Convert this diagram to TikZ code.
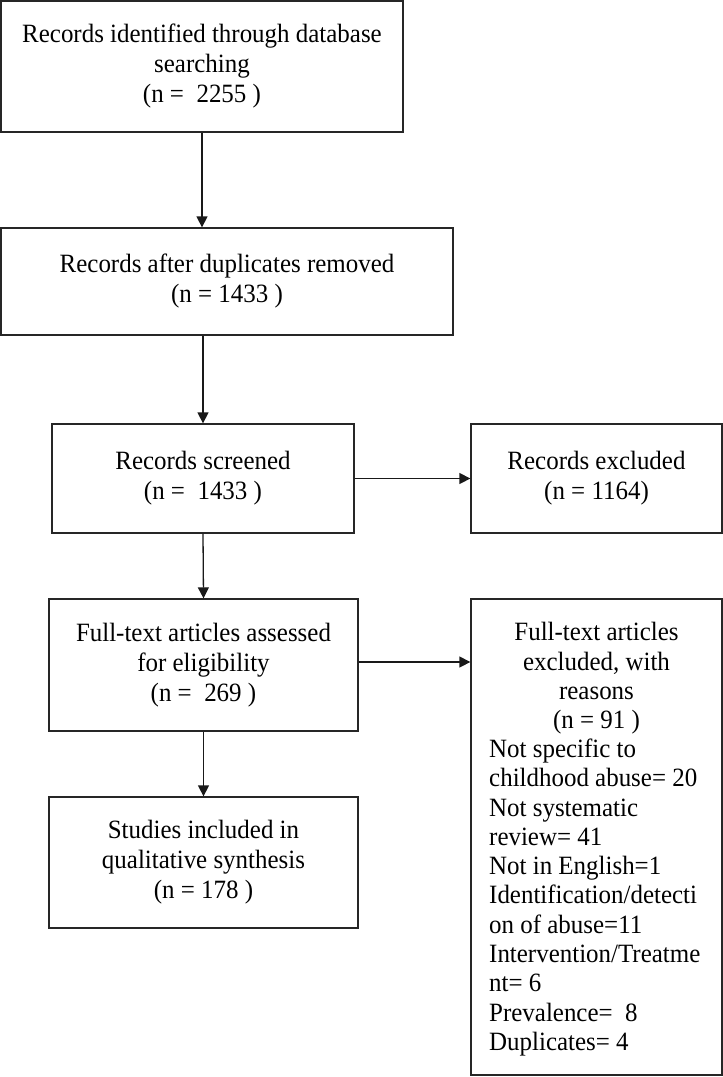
\documentclass[tikz,border=0pt]{standalone}
\usepackage{fontspec}
\setmainfont[FakeStretch=0.945]{Liberation Serif}
\usetikzlibrary{arrows.meta}
\begin{document}
\begin{tikzpicture}[x=1pt,y=-1pt,
  box/.style={draw=black!85,line width=1.3pt,inner sep=0pt,align=center,font=\fontsize{26.4}{30}\selectfont},
  txt/.style={inner sep=0pt,font=\fontsize{26.4}{29.3}\selectfont},
  arr/.style={draw=black!90,line width=1.3pt,-{Triangle[length=11pt,width=11pt]}}]
\useasboundingbox (0,0) rectangle (723,1077);
\node[box,minimum width=402,minimum height=131] (b1) at (202,66.5) {Records identified through database\\searching\\(n = ~2255 )};
\node[box,minimum width=452,minimum height=107] (b2) at (227,281.5) {Records after duplicates removed\\(n = 1433 )};
\node[box,minimum width=302,minimum height=109] (b3) at (203,478.5) {Records screened\\(n = ~1433 )};
\node[box,minimum width=251,minimum height=109] (b4) at (596.5,478.5) {Records excluded\\(n = 1164)};
\node[box,minimum width=309,minimum height=132] (b5) at (203.5,665) {Full-text articles assessed\\for eligibility\\(n = ~269 )};
\node[box,minimum width=251,minimum height=476] (b6) at (596.5,837) {};
\node[txt,align=center] (b6t) at (596.5,678.5) {Full-text articles\\excluded, with\\reasons\\(n = 91 )};
\node[txt,align=left,anchor=west] (b6r) at (489,897.5) {Not specific to\\childhood abuse= 20\\Not systematic\\review= 41\\Not in English=1\\Identification/detecti\\on of abuse=11\\Intervention/Treatme\\nt= 6\\Prevalence= ~8\\Duplicates= 4};
\node[box,minimum width=309,minimum height=131] (b7) at (203.5,862.5) {Studies included in\\qualitative synthesis\\(n = 178 )};
\draw[arr] (b1.south) -- (b1.south |- b2.north);
\draw[arr] (b3.north |- b2.south) -- (b3.north);
\draw[arr] (b3.east) -- (b4.west);
\draw[arr] (b3.south) -- (b5.north);
\draw[arr] ([yshift=3pt]b5.east) -- ([yshift=3pt]b5.east -| b6.west);
\draw[arr] (b5.south) -- (b7.north);
\end{tikzpicture}
\end{document}
